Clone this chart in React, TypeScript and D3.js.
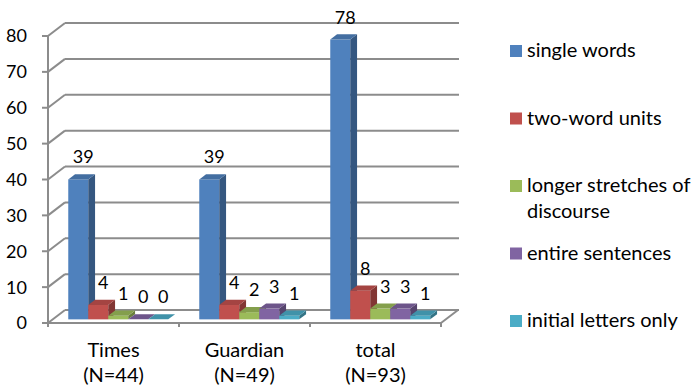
import React from 'react';
import * as d3 from 'd3';

// chart values
const categories = ['Times', 'Guardian', 'total'];
const categoryNotes = ['(N=44)', '(N=49)', '(N=93)'];
const seriesNames = [
  'single words',
  'two-word units',
  'longer stretches of discourse',
  'entire sentences',
  'initial letters only',
];
const legendLines = [
  ['single words'],
  ['two-word units'],
  ['longer stretches of', 'discourse'],
  ['entire sentences'],
  ['initial letters only'],
];
const singleWords = [39, 39, 78];
const twoWordUnits = [4, 4, 8];
const longerStretches = [1, 2, 3];
const entireSentences = [0, 3, 3];
const initialLetters = [0, 1, 1];
const seriesValues = [singleWords, twoWordUnits, longerStretches, entireSentences, initialLetters];
const yTicks = [0, 10, 20, 30, 40, 50, 60, 70, 80];

// Excel 2007 palette
const COLORS = ['#4F81BD', '#C0504D', '#9BBB59', '#8064A2', '#4BACC6'];
const GRID = '#8C8C8C';
const FONT = 'Lato, "Open Sans", sans-serif';

const W = 692;
const H = 389;
const left = 48;
const right = 441;
const floorY = 323;
const topY = 36;
// depth of the 3D box (back wall offset)
const DX = 17;
const DY = -13;
// bars sit in the middle of the floor depth
const FRONT = 0.28;
const BACK = 0.68;

export default function App() {
  const x = d3.scaleBand<string>().domain(categories).range([left, right]);
  const inner = d3.scaleBand<string>().domain(seriesNames).range([0, x.bandwidth()]).paddingOuter(0.775);
  const y = d3.scaleLinear().domain([0, 80]).range([floorY, topY]);
  const bw = inner.bandwidth();

  const fdx = DX * FRONT, fdy = DY * FRONT;
  const bdx = DX * BACK, bdy = DY * BACK;

  const shade = (c: string, k: number) => d3.color(c)!.darker(k).formatHex();

  const bars: JSX.Element[] = [];
  const labels: JSX.Element[] = [];
  categories.forEach((cat, ci) => {
    seriesNames.forEach((s, si) => {
      const v = seriesValues[si][ci];
      const x0 = (x(cat) as number) + (inner(s) as number) + fdx;
      const x1 = x0 + bw;
      const yb = y(0) + fdy;
      const yt = y(v) + fdy;
      const ddx = bdx - fdx, ddy = bdy - fdy;
      const c = COLORS[si];
      bars.push(
        <g key={`${cat}-${s}`}>
          <rect x={x0} y={yt} width={bw} height={Math.max(0, yb - yt)} fill={c} />
          <path d={`M${x1},${yt}L${x1 + ddx},${yt + ddy}L${x1 + ddx},${yb + ddy}L${x1},${yb}Z`} fill={shade(c, 1.1)} />
          <path d={`M${x0},${yt}L${x0 + ddx},${yt + ddy}L${x1 + ddx},${yt + ddy}L${x1},${yt}Z`} fill={shade(c, 0.45)} />
        </g>
      );
      labels.push(
        <text key={`l-${cat}-${s}`} x={x0 + 15} y={yt - 16} textAnchor="middle" fontSize={18}>
          {v}
        </text>
      );
    });
  });

  const legendY = d3.scalePoint<string>().domain(seriesNames).range([57, 327]);

  return (
    <svg width={W} height={H} style={{ position: 'absolute', left: 0, top: 0, background: '#fff' }} fontFamily={FONT} fill="#000">
      {/* walls: gridlines on back wall + left wall diagonals */}
      {yTicks.map(t => (
        <g key={t} stroke={GRID} strokeWidth={2} fill="none">
          <line x1={left + DX} x2={right + DX + 1} y1={y(t) + DY} y2={y(t) + DY} />
          <line x1={left} y1={y(t)} x2={left + DX} y2={y(t) + DY} />
          <line x1={left - 6} x2={left} y1={y(t)} y2={y(t)} />
        </g>
      ))}
      {/* floor front edge and right edge */}
      <g stroke={GRID} strokeWidth={2}>
        <line x1={left} x2={right} y1={floorY} y2={floorY} />
        <line x1={right} y1={floorY} x2={right + DX} y2={floorY + DY} />
        <line x1={left} x2={left} y1={topY} y2={floorY + 4} />
        {categories.map(c => (
          <line key={c} x1={(x(c) as number) + x.bandwidth()} x2={(x(c) as number) + x.bandwidth()} y1={floorY} y2={floorY + 4} />
        ))}
      </g>
      {bars}
      {labels}
      {/* y tick labels */}
      {yTicks.map(t => (
        <text key={t} x={27} y={y(t)} dy="0.36em" textAnchor="end" fontSize={18}>
          {t}
        </text>
      ))}
      {/* category labels */}
      {categories.map((c, i) => (
        <g key={c}>
          <text x={(x(c) as number) + x.bandwidth() / 2} y={357} textAnchor="middle" fontSize={20}>{c}</text>
          <text x={(x(c) as number) + x.bandwidth() / 2} y={382} textAnchor="middle" fontSize={20}>{categoryNotes[i]}</text>
        </g>
      ))}
      {/* legend */}
      {seriesNames.map((s, i) => {
        const ly = legendY(s) as number;
        return (
          <g key={s}>
            <rect x={510} y={ly - 12} width={12} height={12} fill={COLORS[i]} />
            {legendLines[i].map((line, li) => (
              <text key={li} x={527} y={ly + li * 26} fontSize={20}>{line}</text>
            ))}
          </g>
        );
      })}
    </svg>
  );
}
